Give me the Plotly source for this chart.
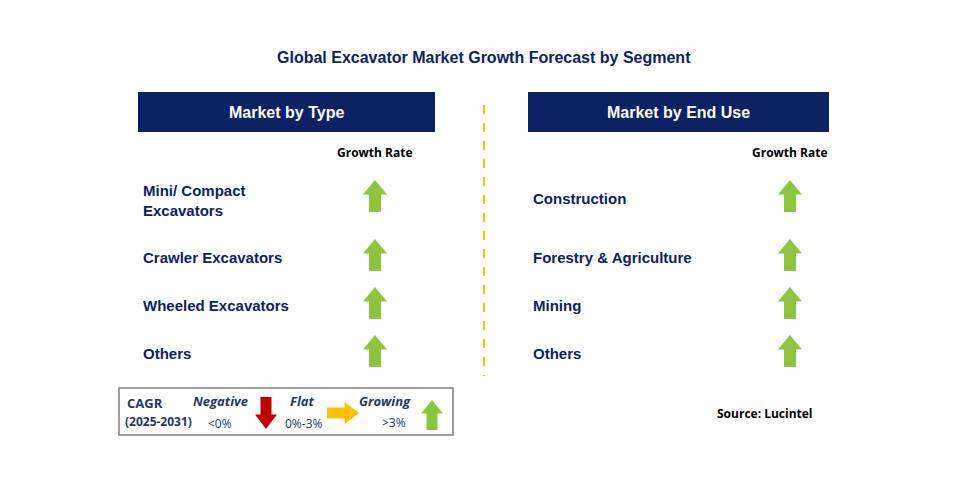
import plotly.graph_objects as go

title = "Global Excavator Market Growth Forecast by Segment"
panel_titles = ["Market by Type", "Market by End Use"]
type_labels = ["Mini/ Compact<br>Excavators", "Crawler Excavators", "Wheeled Excavators", "Others"]
enduse_labels = ["Construction", "Forestry & Agriculture", "Mining", "Others"]
type_growth = ["up", "up", "up", "up"]
enduse_growth = ["up", "up", "up", "up"]
row_y = [196, 255, 303, 351]

NAVY = "#0d2262"
GREEN = "#8cc63f"
RED = "#c00000"
AMBER = "#ffc000"

fig = go.Figure()
shapes = []
ann = []


def arrow(cx, cy, direction, color, w=24, h=32):
    hw, sw = w / 2, w / 4
    hh = h * 0.45
    if direction == "up":
        p = (f"M{cx-sw},{cy+h/2} L{cx+sw},{cy+h/2} L{cx+sw},{cy-h/2+hh} L{cx+hw},{cy-h/2+hh} "
             f"L{cx},{cy-h/2} L{cx-hw},{cy-h/2+hh} L{cx-sw},{cy-h/2+hh} Z")
    elif direction == "down":
        p = (f"M{cx-sw},{cy-h/2} L{cx+sw},{cy-h/2} L{cx+sw},{cy+h/2-hh} L{cx+hw},{cy+h/2-hh} "
             f"L{cx},{cy+h/2} L{cx-hw},{cy+h/2-hh} L{cx-sw},{cy+h/2-hh} Z")
    else:  # right
        p = (f"M{cx-h/2},{cy-sw} L{cx-h/2+h-hh},{cy-sw} L{cx-h/2+h-hh},{cy-hw} L{cx+h/2},{cy} "
             f"L{cx-h/2+h-hh},{cy+hw} L{cx-h/2+h-hh},{cy+sw} L{cx-h/2},{cy+sw} Z")
    shapes.append(dict(type="path", path=p, fillcolor=color, line=dict(width=0), xref="x", yref="y"))


def text(x, y, s, size=14, color=NAVY, bold=True, anchor="left", italic=False, family="Liberation Sans, Arial"):
    if bold:
        s = f"<b>{s}</b>"
    if italic:
        s = f"<i>{s}</i>"
    ann.append(dict(x=x, y=y, xref="x", yref="y", text=s, showarrow=False, xanchor=anchor,
                    align=anchor if anchor != "center" else "center",
                    yanchor="middle", font=dict(size=size, color=color, family=family)))


text(484, 57, title, size=16, anchor="center")

panels = [(138, 435, 375, type_labels, type_growth), (528, 829, 790, enduse_labels, enduse_growth)]
for (x0, x1, ax, labels, growth), pt in zip(panels, panel_titles):
    shapes.append(dict(type="rect", x0=x0, x1=x1, y0=92, y1=132, fillcolor=NAVY, line=dict(width=0)))
    text((x0 + x1) / 2, 112, pt, size=16, color="white", anchor="center")
    text(ax, 152, "Growth Rate", size=12, color="black", anchor="center", family="Open Sans, Arial")
    for lab, g, y in zip(labels, growth, row_y):
        text(x0 + 3, y + (4 if "<br>" in lab else 2), lab, size=15)
        arrow(ax, y, g, GREEN)

shapes.append(dict(type="line", x0=484, x1=484, y0=105, y1=376,
                   line=dict(color=AMBER, width=2, dash="dash")))

# legend box
shapes.append(dict(type="rect", x0=119, x1=453, y0=388, y1=435, line=dict(color="#808080", width=1.5)))
lf = "Open Sans, Arial"
text(125, 403, "CAGR", size=13, color="#1f3864", family=lf)
text(123, 421, "(2025-2031)", size=12, color="#1f3864", family=lf)
text(220, 401, "Negative", size=13, color="#1f3864", anchor="center", italic=True, family=lf)
text(220, 423, "&lt;0%", size=12, color="#1f3864", bold=False, anchor="center", family=lf)
arrow(266, 413, "down", RED, w=22, h=32)
text(302, 401, "Flat", size=13, color="#1f3864", anchor="center", italic=True, family=lf)
text(304, 423, "0%-3%", size=12, color="#1f3864", bold=False, anchor="center", family=lf)
arrow(343, 413, "right", AMBER, w=22, h=32)
text(385, 401, "Growing", size=13, color="#1f3864", anchor="center", italic=True, family=lf)
text(394, 422, "&gt;3%", size=12, color="#1f3864", bold=False, anchor="center", family=lf)
arrow(432, 415, "up", GREEN, w=22, h=30)

text(765, 413, "Source: Lucintel", size=12, color="black", anchor="center", family=lf)

fig.update_layout(
    width=957, height=483, margin=dict(l=0, r=0, t=0, b=0),
    paper_bgcolor="white", plot_bgcolor="white", showlegend=False,
    xaxis=dict(range=[8, 965], visible=False, fixedrange=True),
    yaxis=dict(range=[491, 8], visible=False, fixedrange=True),
    shapes=shapes, annotations=ann,
)
fig.write_html("out.html")
